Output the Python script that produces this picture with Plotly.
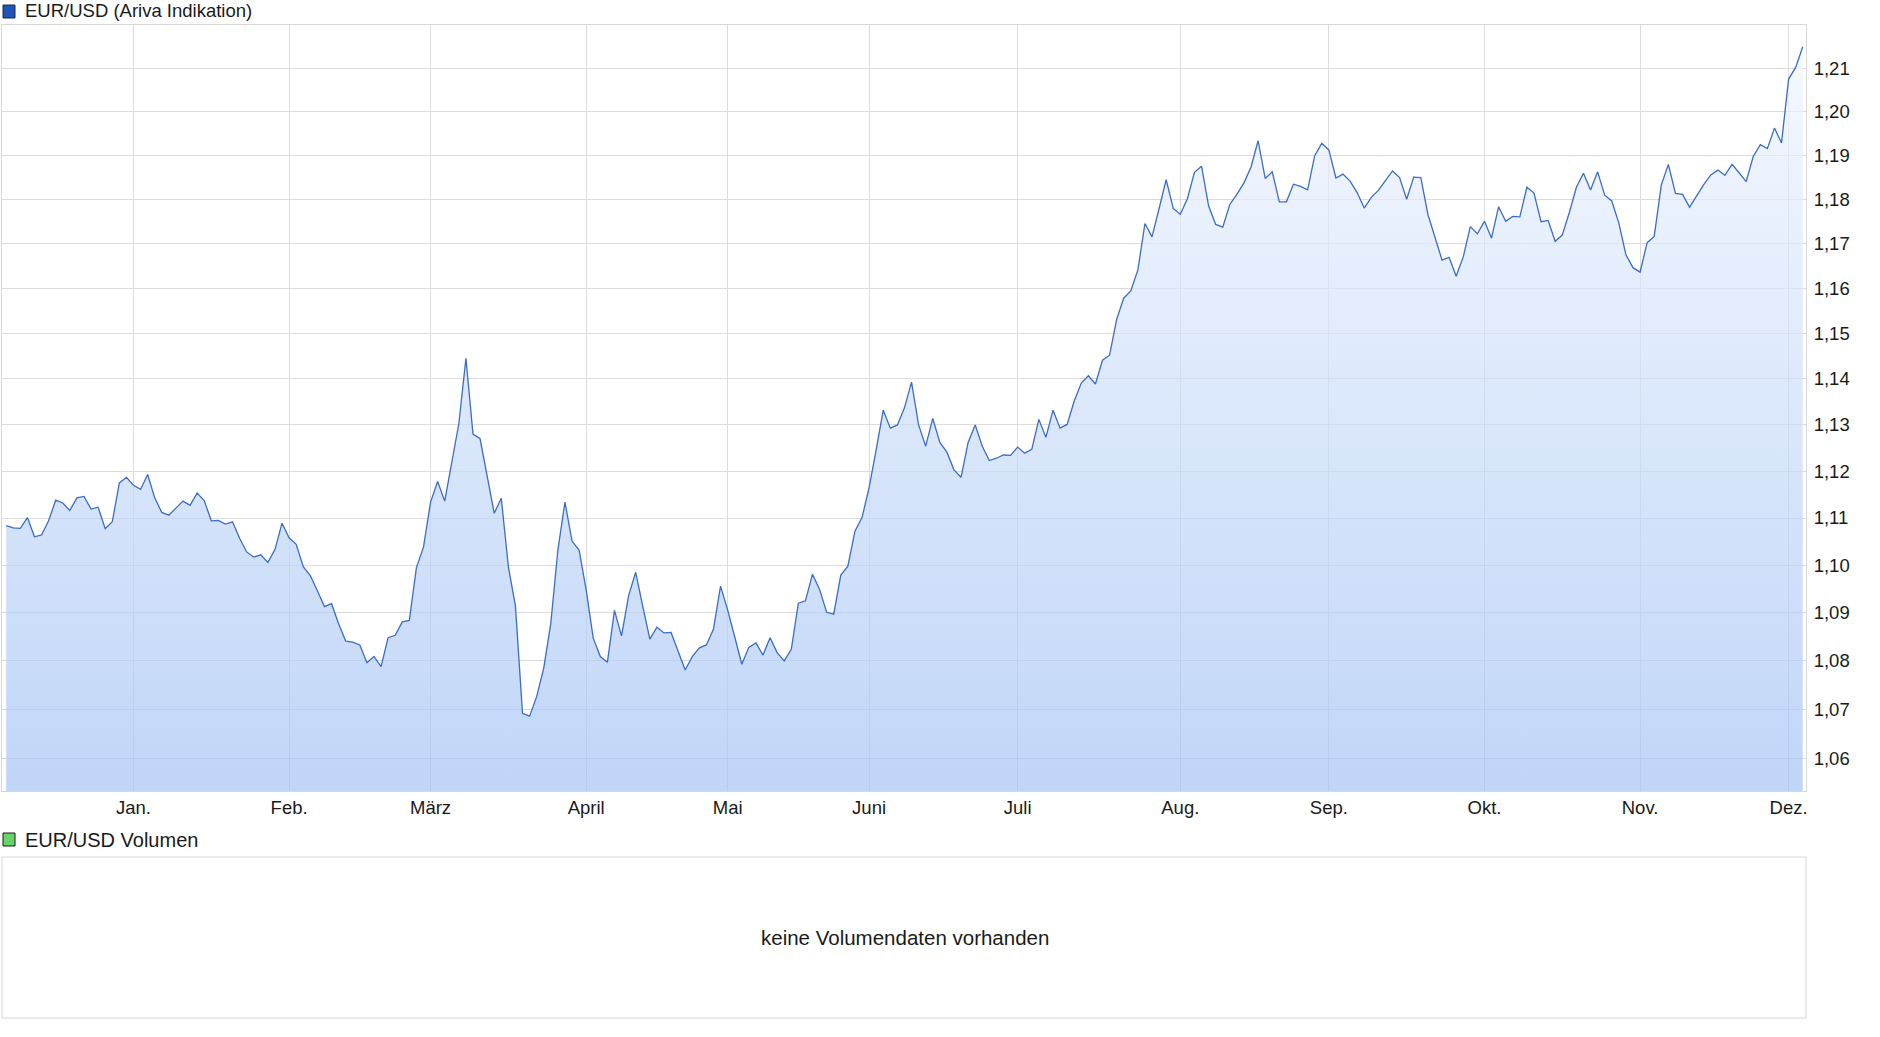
import math
import plotly.graph_objects as go

# ---- data: EUR/USD daily indication (one value per trading day) ----
dec_2019 = [1.1084, 1.1079, 1.1078, 1.1101, 1.1060, 1.1064, 1.1094, 1.1138, 1.1132,
            1.1116, 1.1143, 1.1146, 1.1119, 1.1123, 1.1077, 1.1092, 1.1175, 1.1187]
jan = [1.1170, 1.1161, 1.1193, 1.1143, 1.1112, 1.1106, 1.1121, 1.1136, 1.1127, 1.1153,
       1.1137, 1.1094, 1.1095, 1.1087, 1.1092, 1.1057, 1.1028, 1.1017, 1.1022, 1.1006,
       1.1033, 1.1089]
feb = [1.1058, 1.1044, 1.0997, 1.0978, 1.0946, 1.0913, 1.0919, 1.0877, 1.0841, 1.0839,
       1.0833, 1.0796, 1.0809, 1.0788, 1.0848, 1.0853, 1.0881, 1.0884, 1.0995, 1.1038]
mar = [1.1134, 1.1178, 1.1136, 1.1220, 1.1303, 1.1445, 1.1280, 1.1270, 1.1188, 1.1110,
       1.1142, 1.0997, 1.0914, 1.0692, 1.0686, 1.0726, 1.0785, 1.0878, 1.1032, 1.1134,
       1.1051, 1.1032]
apr = [1.0948, 1.0847, 1.0809, 1.0797, 1.0905, 1.0852, 1.0936, 1.0985, 1.0914, 1.0845,
       1.0870, 1.0858, 1.0859, 1.0819, 1.0781, 1.0809, 1.0827, 1.0833, 1.0866, 1.0956]
may = [1.0906, 1.0850, 1.0793, 1.0828, 1.0837, 1.0812, 1.0848, 1.0817, 1.0800, 1.0824,
       1.0920, 1.0925, 1.0981, 1.0949, 1.0901, 1.0897, 1.0979, 1.0998, 1.1072, 1.1101]
jun = [1.1165, 1.1246, 1.1332, 1.1293, 1.1300, 1.1337, 1.1393, 1.1300, 1.1254, 1.1314,
       1.1262, 1.1241, 1.1203, 1.1187, 1.1262, 1.1300, 1.1254, 1.1223, 1.1228, 1.1235,
       1.1234]
jul = [1.1252, 1.1239, 1.1247, 1.1312, 1.1273, 1.1332, 1.1293, 1.1301, 1.1352, 1.1391,
       1.1407, 1.1389, 1.1441, 1.1452, 1.1531, 1.1578, 1.1594, 1.1641, 1.1745, 1.1715,
       1.1779, 1.1844, 1.1779]
aug = [1.1766, 1.1801, 1.1861, 1.1875, 1.1785, 1.1743, 1.1737, 1.1788, 1.1811, 1.1837,
       1.1873, 1.1933, 1.1847, 1.1862, 1.1794, 1.1794, 1.1834, 1.1829, 1.1821, 1.1899,
       1.1927]
sep = [1.1912, 1.1848, 1.1857, 1.1841, 1.1815, 1.1780, 1.1804, 1.1820, 1.1842, 1.1864,
       1.1849, 1.1800, 1.1850, 1.1849, 1.1766, 1.1714, 1.1663, 1.1669, 1.1627, 1.1670,
       1.1738, 1.1722]
oct = [1.1750, 1.1712, 1.1783, 1.1750, 1.1761, 1.1760, 1.1827, 1.1814, 1.1749, 1.1752,
       1.1705, 1.1719, 1.1770, 1.1827, 1.1859, 1.1821, 1.1862, 1.1809, 1.1796, 1.1746,
       1.1675, 1.1646]
nov = [1.1636, 1.1702, 1.1716, 1.1832, 1.1879, 1.1813, 1.1811, 1.1782, 1.1808, 1.1833,
       1.1855, 1.1866, 1.1854, 1.1879, 1.1860, 1.1840, 1.1897, 1.1924, 1.1915, 1.1962,
       1.1928]
dec_2020 = [1.2075, 1.2102, 1.2150]

month_labels = ["Jan.", "Feb.", "März", "April", "Mai", "Juni", "Juli",
                "Aug.", "Sep.", "Okt.", "Nov.", "Dez."]
y_tick_values = [1.06, 1.07, 1.08, 1.09, 1.10, 1.11, 1.12, 1.13,
                 1.14, 1.15, 1.16, 1.17, 1.18, 1.19, 1.20, 1.21]
y_tick_labels = ["1,06", "1,07", "1,08", "1,09", "1,10", "1,11", "1,12", "1,13",
                 "1,14", "1,15", "1,16", "1,17", "1,18", "1,19", "1,20", "1,21"]

months = [jan, feb, mar, apr, may, jun, jul, aug, sep, oct, nov, dec_2020]
close = list(dec_2019)
month_tick_idx = []
for m in months:
    month_tick_idx.append(len(close))
    close.extend(m)
x_idx = list(range(len(close)))

# ---- layout helpers (pixel -> paper) ----
W, H = 1880, 1037
def px(x):
    return x / W
def py(y):
    return 1 - y / H

Y_LO, Y_HI = 1.05337, 1.22009
FONT = "Liberation Sans, Arial, sans-serif"

fig = go.Figure()
fig.add_trace(go.Scatter(
    x=x_idx, y=close, mode="lines",
    line=dict(color="#3a6cc8", width=1.3),
    fill="tozeroy",
    fillgradient=dict(type="vertical",
                      colorscale=[[0, "rgba(165,196,244,0.7)"], [1, "rgba(243,247,255,0.7)"]],
                      start=Y_LO, stop=Y_HI),
    hoverinfo="skip",
))

axis_line = "#d6d6d6"
grid = "#dcdcdc"
fig.update_layout(
    width=W, height=H,
    margin=dict(l=0, r=0, t=0, b=0),
    paper_bgcolor="white", plot_bgcolor="white",
    showlegend=False,
    font=dict(family=FONT, size=18.5, color="#1a1a1a"),
    xaxis=dict(domain=[px(2), px(1806)], range=[-0.59, 254.46],
               tickmode="array", tickvals=month_tick_idx, ticktext=month_labels,
               tickfont=dict(size=18.5),
               showgrid=True, gridcolor=grid, gridwidth=1, zeroline=False,
               showline=True, linecolor=axis_line, mirror=True, ticks="",
               automargin=False, fixedrange=True),
    yaxis=dict(domain=[py(791), py(25)], type="log",
               range=[math.log10(Y_LO), math.log10(Y_HI)],
               side="right", tickmode="array", tickvals=y_tick_values, ticktext=y_tick_labels,
               tickfont=dict(size=18.5), ticklabelstandoff=3,
               showgrid=True, gridcolor=grid, gridwidth=1, zeroline=False,
               showline=True, linecolor=axis_line, mirror=True, ticks="",
               automargin=False, fixedrange=True),
)

shapes = [
    dict(type="rect", xref="paper", yref="paper", x0=px(3), x1=px(15), y0=py(18), y1=py(5),
         fillcolor="#1f55b5", line=dict(color="#1a2a4a", width=1)),
    dict(type="rect", xref="paper", yref="paper", x0=px(3), x1=px(15), y0=py(846), y1=py(833),
         fillcolor="#66d466", line=dict(color="#1a1a1a", width=1)),
    dict(type="rect", xref="paper", yref="paper", x0=px(2), x1=px(1806), y0=py(1018), y1=py(857),
         fillcolor="rgba(0,0,0,0)", line=dict(color=axis_line, width=1)),
]
annotations = [
    dict(text="EUR/USD (Ariva Indikation)", xref="paper", yref="paper", x=px(23), y=py(11),
         xanchor="left", yanchor="middle", showarrow=False, font=dict(size=18.5)),
    dict(text="EUR/USD Volumen", xref="paper", yref="paper", x=px(23), y=py(839.5),
         xanchor="left", yanchor="middle", showarrow=False, font=dict(size=20)),
    dict(text="keine Volumendaten vorhanden", xref="paper", yref="paper", x=px(905), y=py(937),
         xanchor="center", yanchor="middle", showarrow=False, font=dict(size=20.5)),
]
fig.update_layout(shapes=shapes, annotations=annotations)

fig.write_html("out.html", config={"displayModeBar": False},
               post_script="document.body.style.margin='0';document.body.style.overflow='hidden';")
